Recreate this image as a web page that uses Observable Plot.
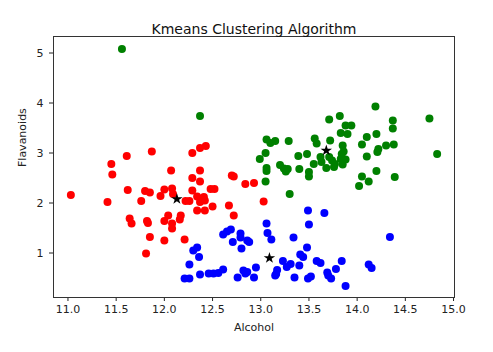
<!DOCTYPE html>
<html>
<head>
<meta charset="utf-8">
<script src="https://cdn.jsdelivr.net/npm/d3@7"></script>
<script src="https://cdn.jsdelivr.net/npm/@observablehq/plot@0.6"></script>
<style>
  html, body { margin: 0; padding: 0; background: #fff; }
</style>
</head>
<body>
<div id="chart"></div>
<script>
const title = "Kmeans Clustering Algorithm";
const xLabel = "Alcohol";
const yLabel = "Flavanoids";
const xTicks = [11.0, 11.5, 12.0, 12.5, 13.0, 13.5, 14.0, 14.5, 15.0];
const yTicks = [1, 2, 3, 4, 5];

const redAlcohol = [11.03,11.41,11.45,11.46,11.61,11.62,11.64,11.66,11.76,11.80,11.85,11.82,11.83,11.81,11.85,11.87,11.96,12.00,12.00,12.00,12.04,12.07,12.08,12.09,12.08,12.08,12.16,12.17,12.21,12.22,12.26,12.29,12.29,12.29,12.34,12.37,12.43,12.37,12.37,12.34,12.41,12.37,12.42,12.42,12.48,12.52,12.50,12.67,12.70,12.72,12.72,12.84,12.93,13.03];
const redFlav = [2.16,2.02,2.78,2.57,2.94,2.26,1.69,1.59,2.04,2.24,2.21,1.64,1.60,0.99,1.32,3.03,2.14,2.27,1.64,1.25,1.75,2.65,2.29,2.18,1.59,1.49,1.67,1.75,1.27,2.04,2.04,3.00,2.50,2.25,1.85,3.10,3.14,2.65,2.43,2.13,2.12,2.02,2.05,1.85,2.28,2.28,1.93,1.95,2.55,2.53,1.75,2.38,2.40,2.03];

const greenAlcohol = [11.56,12.37,14.75,14.83,14.19,14.37,14.37,14.38,14.39,14.30,14.20,14.22,14.21,14.20,14.10,14.10,14.05,14.05,14.12,14.02,13.82,13.71,13.83,13.90,13.88,13.94,13.72,13.85,13.86,13.84,13.83,13.88,13.85,13.56,13.58,13.71,13.74,13.77,13.76,13.68,13.62,13.63,13.48,13.39,13.40,13.55,13.50,13.50,13.29,13.20,13.24,13.26,13.28,13.06,13.10,13.15,13.05,12.99,13.06,13.06,13.05,13.30];
const greenFlav = [5.08,3.74,3.69,2.98,3.93,3.65,3.49,3.17,2.52,3.15,3.38,3.08,3.02,2.64,3.32,2.93,3.17,2.53,2.43,2.34,3.74,3.67,3.40,3.38,3.55,3.55,3.25,3.15,3.03,2.98,2.88,2.87,2.77,3.29,3.19,2.92,2.85,2.78,2.72,2.70,2.92,2.82,2.98,2.94,2.68,2.78,2.62,2.53,3.24,2.76,2.69,2.63,2.68,3.27,3.20,3.24,3.00,2.88,2.70,2.64,2.43,2.18];

const blueAlcohol = [12.61,12.65,12.69,12.71,12.79,12.79,12.86,12.88,12.80,12.30,12.34,12.36,12.26,12.21,12.26,12.37,12.46,12.51,12.56,12.61,12.76,12.82,12.86,12.84,12.93,12.95,13.06,13.07,13.11,13.17,13.16,13.15,13.23,13.34,13.27,13.31,13.35,13.40,13.41,13.44,13.48,13.49,13.50,13.49,13.52,13.58,13.62,13.66,13.69,13.70,13.73,13.78,13.84,13.88,14.12,14.15,14.34];
const blueFlav = [1.37,1.43,1.47,1.22,1.39,1.31,1.25,1.22,1.09,1.05,1.11,0.92,0.77,0.49,0.49,0.57,0.59,0.59,0.60,0.67,0.51,0.65,0.62,0.59,0.51,0.71,1.59,1.40,1.27,0.66,0.58,0.55,0.84,1.31,0.72,0.78,0.51,0.75,0.97,0.92,1.11,1.85,1.57,0.49,0.53,0.84,0.80,1.80,0.61,0.55,0.49,0.68,0.84,0.34,0.77,0.70,1.32];

const centerAlcohol = [12.13, 13.68, 13.09];
const centerFlav = [2.08, 3.05, 0.90];

const toRows = (xs, ys) => xs.map((x, i) => ({x, y: ys[i]}));
const red = toRows(redAlcohol, redFlav);
const green = toRows(greenAlcohol, greenFlav);
const blue = toRows(blueAlcohol, blueFlav);
const centers = toRows(centerAlcohol, centerFlav);

const font = "DejaVu Sans";
const chart = Plot.plot({
  width: 493,
  height: 352,
  marginLeft: 53,
  marginRight: 39,
  marginTop: 36,
  marginBottom: 55,
  style: {fontFamily: font, fontSize: "11px", color: "#222", background: "#fff"},
  x: {domain: [10.85, 15.01]},
  y: {domain: [0.11, 5.33]},
  marks: [
    Plot.axisX({ticks: xTicks, tickFormat: d3.format(".1f"), tickSize: 4, tickPadding: 4, fontSize: 11, label: null, stroke: "#222"}),
    Plot.axisY({ticks: yTicks, tickFormat: d3.format("d"), tickSize: 4, tickPadding: 6, fontSize: 11, label: null, stroke: "#222"}),
    Plot.dot(red, {x: "x", y: "y", r: 4, fill: "red", stroke: null}),
    Plot.dot(green, {x: "x", y: "y", r: 4, fill: "green", stroke: null}),
    Plot.dot(blue, {x: "x", y: "y", r: 4, fill: "blue", stroke: null}),
    Plot.dot(centers, {x: "x", y: "y", r: 3.6, symbol: "star", fill: "black", stroke: null}),
    Plot.frame({stroke: "#333", strokeWidth: 1}),
    Plot.text([title], {text: d => d, frameAnchor: "top", dy: -12, fontSize: 14, fill: "#111"}),
    Plot.text([xLabel], {text: d => d, frameAnchor: "bottom", dy: 33, fontSize: 11, fill: "#222"}),
    Plot.text([yLabel], {text: d => d, frameAnchor: "left", dx: -31, rotate: -90, fontSize: 11, fill: "#222"})
  ]
});
document.getElementById("chart").appendChild(chart);
</script>
</body>
</html>
